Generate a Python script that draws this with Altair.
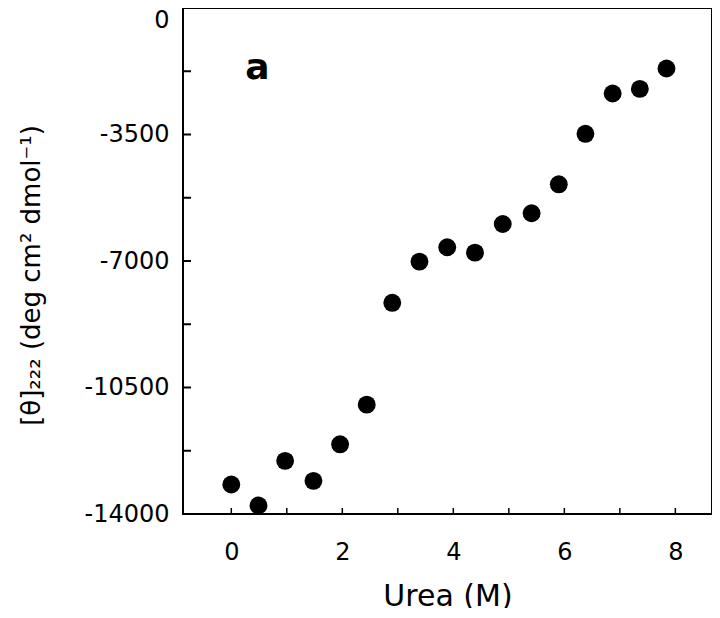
import altair as alt
import pandas as pd

# Data
urea = [0.0, 0.49, 0.97, 1.48, 1.96, 2.44, 2.90, 3.39, 3.89, 4.39, 4.89, 5.41, 5.90, 6.38, 6.87, 7.36, 7.84]
theta222 = [-13185, -13765, -12530, -13083, -12072, -10975, -8157, -7017, -6619, -6768,
            -5975, -5680, -4878, -3481, -2365, -2238, -1674]

x_tick_labels = [0, 2, 4, 6, 8]
x_ticks_all = [0, 1, 2, 3, 4, 5, 6, 7, 8]
y_tick_labels = [0, -3500, -7000, -10500, -14000]
y_ticks_all = [0, -1750, -3500, -5250, -7000, -8750, -10500, -12250, -14000]

panel_label = ["a"]
panel_label_x = [0.47]
panel_label_y = [-1960]

FONT = "DejaVu Sans"
W, H = 529, 506

pts = pd.DataFrame({"x": urea, "y": theta222})
xt = pd.DataFrame({"x": x_ticks_all})
yt = pd.DataFrame({"y": y_ticks_all})
lab = pd.DataFrame({"x": panel_label_x, "y": panel_label_y, "t": panel_label})

xscale = alt.Scale(domain=[-0.87, 8.66], nice=False, zero=False)
yscale = alt.Scale(domain=[-14000, 0], nice=False, zero=False)

xaxis = alt.Axis(values=x_tick_labels, ticks=False, domain=False, grid=False,
                 labelFont=FONT, labelFontSize=24, labelPadding=26, labelColor="black",
                 labelExpr="'' + datum.value",
                 title="Urea (M)", titleFont=FONT, titleFontSize=30, titleFontWeight="normal",
                 titleColor="black", titlePadding=17)
yaxis = alt.Axis(values=y_tick_labels, ticks=False, domain=False, grid=False,
                 labelFont=FONT, labelFontSize=24, labelPadding=14, labelColor="black",
                 labelExpr="'' + datum.value",
                 labelBaseline={"condition": {"test": "datum.value == 0", "value": "top"},
                                "value": "middle"},
                 title="[θ]₂₂₂ (deg cm² dmol⁻¹)", titleFont=FONT, titleFontSize=26,
                 titleFontWeight="normal", titleColor="black",
                 titleX=-144, titleY=267, titleAlign="center", titleBaseline="alphabetic",
                 titleAngle=270)

X = alt.X("x:Q", scale=xscale, axis=xaxis)
Y = alt.Y("y:Q", scale=yscale, axis=yaxis)

points = alt.Chart(pts).mark_circle(size=320, color="black", opacity=1).encode(x=X, y=Y)

yticks = alt.Chart(yt).mark_rule(color="black", strokeWidth=2).encode(
    y=Y, x=alt.value(0), x2=alt.value(8))
xticks = alt.Chart(xt).mark_rule(color="black", strokeWidth=1.5).encode(
    x=X, y=alt.value(H), y2=alt.value(H - 6))

text = alt.Chart(lab).mark_text(font=FONT, fontSize=36, fontWeight="bold", color="black",
                                align="center", baseline="alphabetic").encode(x=X, y=Y, text="t:N")

chart = alt.layer(yticks, xticks, points, text).properties(
    width=W, height=H,
    autosize=alt.AutoSizeParams(type="none"),
    padding={"left": 175, "top": 0, "right": 0, "bottom": 94},
).configure_view(stroke="black", strokeWidth=2)

chart.save("out.html", embed_options={"renderer": "svg", "actions": False})
